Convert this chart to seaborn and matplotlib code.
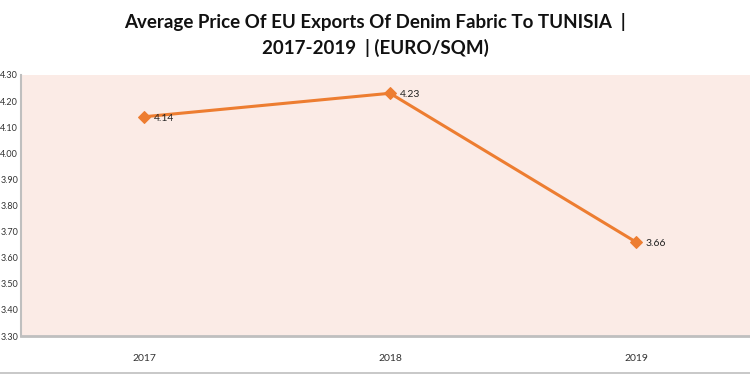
import matplotlib
matplotlib.use("Agg")
import matplotlib.pyplot as plt
import seaborn as sns
import pandas as pd

years = ["2017", "2018", "2019"]
prices = [4.14, 4.23, 3.66]
yticks = [3.30, 3.40, 3.50, 3.60, 3.70, 3.80, 3.90, 4.00, 4.10, 4.20, 4.30]

df = pd.DataFrame({"year": years, "price": prices})

sns.set_theme(style="white")
plt.rcParams['font.family'] = ['Lato', 'DejaVu Sans']

W, H = 750, 376
fig = plt.figure(figsize=(7.5, 3.76), dpi=100)
left, right, top, bottom = 21, 759, 75, 336
ax = fig.add_axes([left / W, 1 - bottom / H, (right - left) / W, (bottom - top) / H])
ax.set_facecolor("#FBEBE6")

sns.lineplot(data=df, x="year", y="price", ax=ax, color="#ED7D31", linewidth=2.2,
             marker="D", markersize=6, markeredgecolor="#ED7D31", sort=False)

for i, v in enumerate(prices):
    ax.annotate(f"{v:.2f}", (i, v), xytext=(7, -1), textcoords="offset points",
                ha="left", va="center", fontsize=7.5, color="#222222")

ax.set_xlim(-0.5, 2.5)
ax.set_ylim(3.30, 4.30)
ax.set_yticks(yticks)
ax.set_yticklabels([f"{t:.2f}" for t in yticks], fontsize=6.5, color="#333333")
ax.tick_params(axis="y", length=0, pad=2)
ax.tick_params(axis="x", length=0, pad=13, labelsize=7.5, labelcolor="#333333")
ax.set_xlabel("")
ax.set_ylabel("")
for s in ["top", "right"]:
    ax.spines[s].set_visible(False)
ax.spines["left"].set_color("#BFBFBF")
ax.spines["left"].set_linewidth(1.5)
ax.spines["bottom"].set_color("#BFBFBF")
ax.spines["bottom"].set_linewidth(2)

fig.text(0.5, 1 - 22 / H, "Average Price Of EU Exports Of Denim Fabric To TUNISIA  |",
         ha="center", va="center", fontsize=13.5, fontweight="bold", color="#111111")
fig.text(0.5, 1 - 48 / H, "2017-2019  | (EURO/SQM)",
         ha="center", va="center", fontsize=13.5, fontweight="bold", color="#111111")

fig.add_artist(plt.Line2D([0, 1], [1 - 373 / H, 1 - 373 / H], color="#BFBFBF", linewidth=1.2,
                          transform=fig.transFigure))

fig.savefig("out.png", dpi=100, facecolor="white")
